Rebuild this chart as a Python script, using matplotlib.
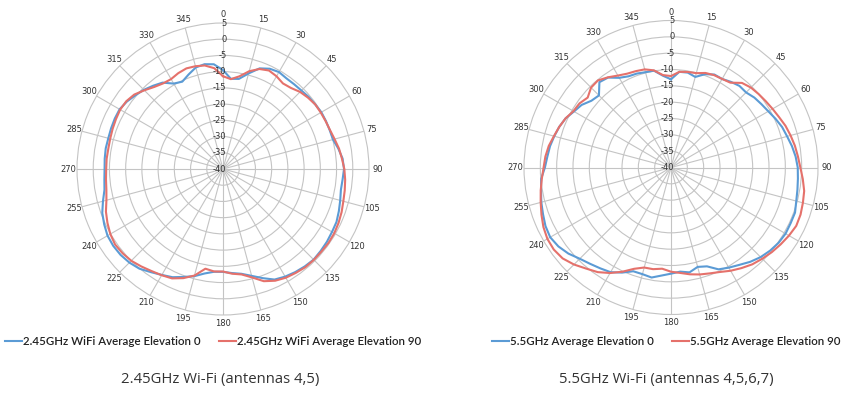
import numpy as np
import matplotlib
matplotlib.use('Agg')
import matplotlib.pyplot as plt
from matplotlib.transforms import ScaledTranslation

# azimuth (degrees) of every sample, shared by all four series
angles = list(range(0, 360, 5))

# 2.45GHz WiFi, dB values
wifi24_elev0 = [-9.5, -12.1, -11.8, -9.5, -7.0, -5.9, -5.5, -5.9, -5.9, -5.8, -5.5, -5.3,
                -5.0, -5.0, -5.0, -4.9, -3.9, -3.0, -2.7, -3.0, -3.1, -2.6, -2.0, -1.4,
                -1.2, -0.9, -0.7, -0.5, -0.8, -1.2, -1.7, -2.4, -4.2, -5.9, -7.2, -7.8,
                -8.3, -8.2, -7.3, -5.8, -4.6, -3.2, -2.3, -1.2, 0.1, 0.8, 1.2, 1.3,
                1.1, 0.4, -0.4, -1.7, -2.9, -3.3, -3.5, -3.4, -3.3, -3.4, -3.3, -3.2,
                -3.2, -3.8, -4.7, -5.5, -6.5, -7.5, -9.6, -10.3, -9.0, -7.6, -7.2, -7.6]
wifi24_elev90 = [-11.4, -12.2, -11.0, -8.8, -7.2, -6.5, -7.0, -7.8, -7.4, -6.4, -5.8, -5.3,
                 -5.2, -5.1, -4.9, -4.4, -3.7, -3.2, -2.6, -2.2, -1.9, -1.6, -1.1, -0.7,
                 -0.4, -0.3, -0.4, -0.4, -0.5, -0.9, -1.3, -2.0, -3.2, -5.4, -7.0, -7.6,
                 -8.4, -8.3, -8.8, -6.0, -4.2, -2.8, -2.2, -1.6, -0.8, 0.0, 0.4, 0.6,
                 0.1, -0.7, -1.6, -2.8, -3.5, -3.8, -4.0, -4.0, -4.1, -4.0, -3.8, -3.6,
                 -3.4, -3.6, -4.3, -5.7, -7.0, -7.8, -8.0, -7.4, -7.0, -7.2, -7.6, -8.8]

# 5.5GHz WiFi, dB values
wifi55_elev0 = [-13.0, -10.6, -10.5, -11.3, -9.6, -8.6, -8.7, -8.0, -7.4, -7.5, -6.7, -6.2,
                -5.6, -4.7, -3.8, -3.2, -2.4, -1.7, -1.2, -1.0, -0.7, -0.3, 0.4, 0.4,
                0.5, 0.2, -0.4, -1.2, -2.3, -3.6, -4.6, -5.6, -7.8, -8.5, -7.4, -8.0,
                -7.5, -6.8, -5.8, -6.2, -6.2, -4.5, -3.0, -2.3, -1.5, -0.5, 1.0, 2.1,
                2.7, 2.4, 1.7, 1.1, 0.4, -0.1, -1.4, -2.0, -2.4, -3.0, -3.6, -4.4,
                -5.7, -6.6, -8.2, -8.8, -5.9, -6.4, -8.3, -9.2, -9.4, -9.8, -9.9, -11.8]
wifi55_elev90 = [-12.0, -10.6, -10.3, -10.1, -9.2, -8.8, -8.7, -8.3, -6.2, -5.4, -5.0, -4.6,
                 -4.1, -3.5, -2.7, -2.1, -1.5, -1.0, -0.4, 0.5, 1.4, 1.8, 2.2, 2.3,
                 1.7, 1.0, 0.3, -0.5, -1.3, -2.4, -3.5, -4.7, -5.5, -6.1, -6.8, -7.6,
                 -8.1, -8.9, -8.4, -8.3, -7.0, -4.8, -2.7, -0.9, 0.4, 2.0, 3.3, 3.8,
                 3.7, 3.1, 2.2, 1.3, 0.5, -0.3, -1.0, -1.4, -2.0, -2.9, -3.6, -4.4,
                 -5.5, -5.8, -6.7, -5.4, -5.2, -6.3, -7.5, -8.3, -8.6, -8.9, -9.8, -11.6]

ring_values = [-40, -35, -30, -25, -20, -15, -10, -5, 0, 5]
spoke_angles = list(range(0, 360, 15))

blue = '#5b9bd5'
red = '#e5716b'
grid_col = '#c4c4c4'
text_col = '#333333'

fig = plt.figure(figsize=(8.53, 3.99), dpi=100)


def draw_panel(rect, s0, s90, names, title, legend_x, title_x):
    ax = fig.add_axes(rect, projection='polar')
    ax.set_theta_zero_location('N')
    ax.set_theta_direction(-1)
    th = np.deg2rad(angles + [360])
    ax.plot(th, s0 + s0[:1], color=blue, lw=1.5, label=names[0], zorder=3)
    ax.plot(th, s90 + s90[:1], color=red, lw=1.5, label=names[1], zorder=4)
    ax.set_ylim(ring_values[0], ring_values[-1])
    ax.set_yticks(ring_values[1:-1])
    ax.set_yticklabels([])
    ax.set_thetagrids(spoke_angles, [str(a) for a in spoke_angles],
                      fontsize=6, color=text_col)
    ax.tick_params(axis='x', pad=-4.5)
    ax.grid(color=grid_col, lw=0.8)
    ax.spines['polar'].set_color(grid_col)
    ax.spines['polar'].set_linewidth(0.8)
    ax.set_facecolor('white')
    off = ScaledTranslation(2.5 / 72, 0, fig.dpi_scale_trans)
    for v in ring_values:
        ax.text(0, v, str(v), transform=ax.transData + off, ha='right',
                va='center', fontsize=6, color=text_col, zorder=5)
    ax.legend(loc='center', bbox_to_anchor=(legend_x, 0.144),
              bbox_transform=fig.transFigure, ncol=2, frameon=False,
              prop=dict(family='Lato', size=8.3, weight='semibold'), handlelength=1.45,
              handletextpad=0.1, columnspacing=1.6, labelcolor='#222222')
    fig.text(title_x, 0.05, title, ha='center', va='center', fontsize=10.7,
             family='Open Sans', color='#333333')
    return ax


draw_panel([77 / 853, 84 / 399, 292 / 853, 292 / 399], wifi24_elev0, wifi24_elev90,
           ['2.45GHz WiFi Average Elevation 0', '2.45GHz WiFi Average Elevation 90'],
           '2.45GHz Wi-Fi (antennas 4,5)', 0.2497, 0.258)
draw_panel([524 / 853, 84.5 / 399, 294 / 853, 294 / 399], wifi55_elev0, wifi55_elev90,
           ['5.5GHz Average Elevation 0', '5.5GHz Average Elevation 90'],
           '5.5GHz Wi-Fi (antennas 4,5,6,7)', 0.7814, 0.781)

fig.savefig('out.png', dpi=100, facecolor='white')
